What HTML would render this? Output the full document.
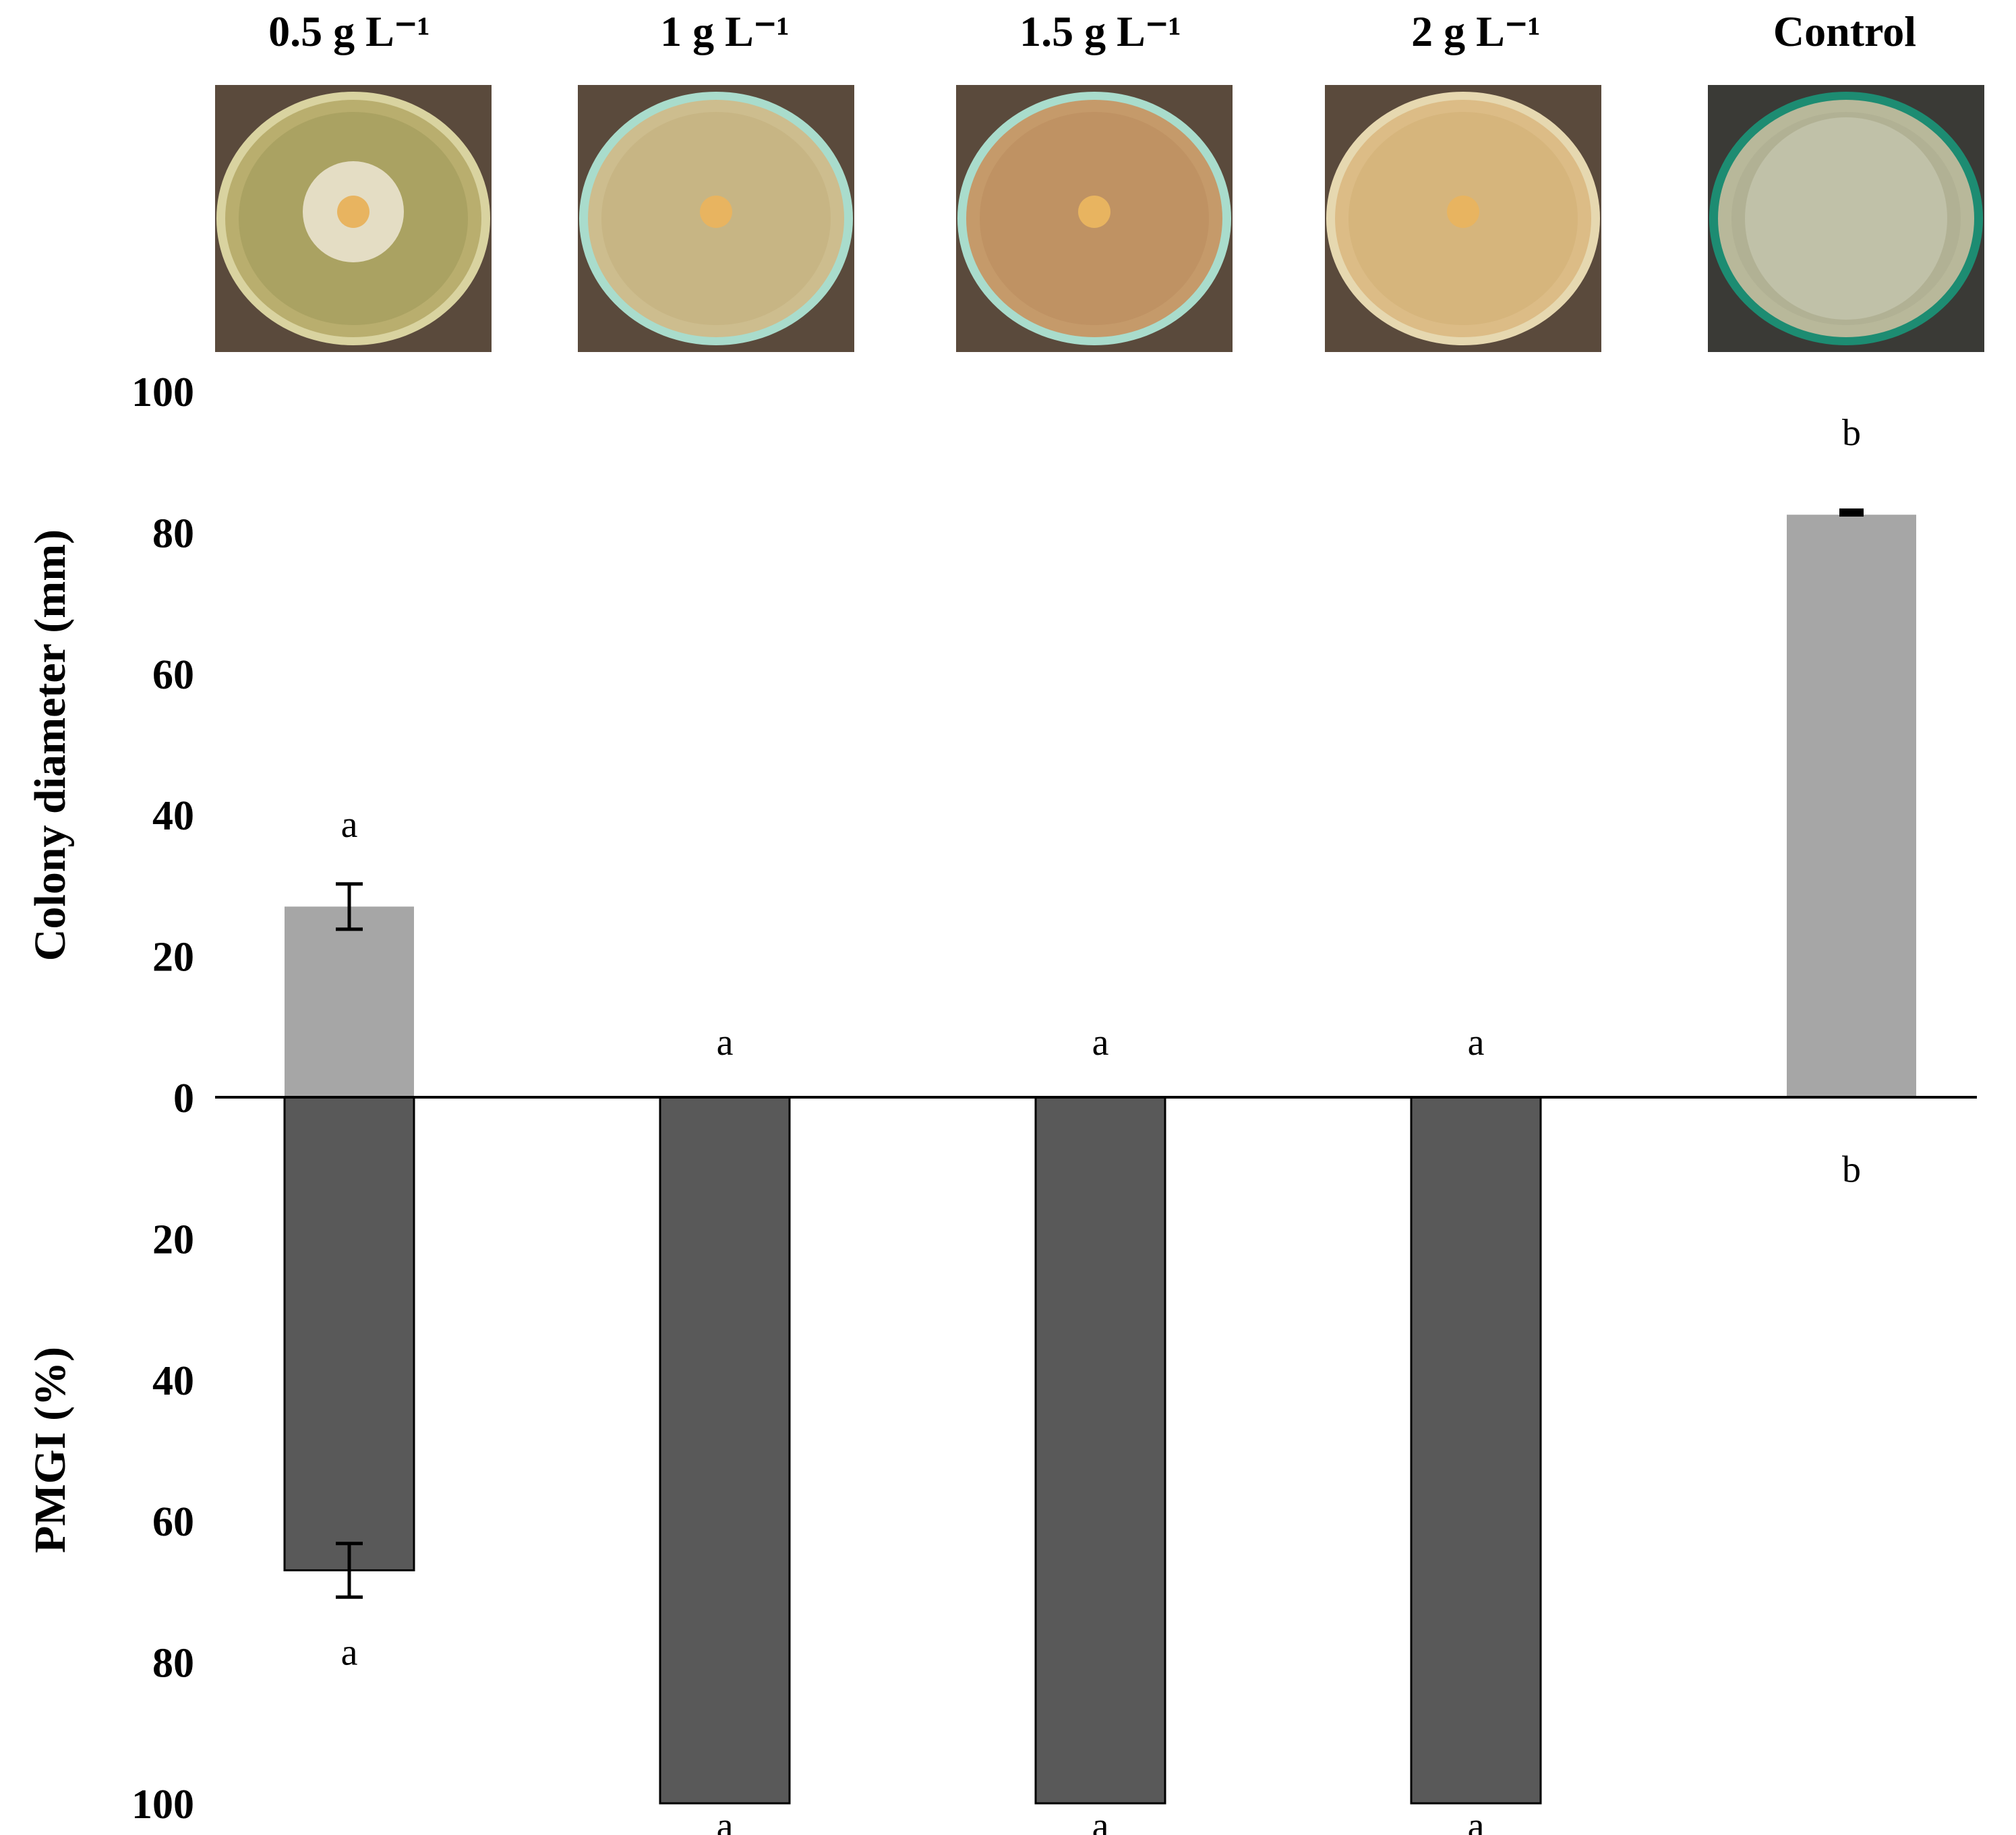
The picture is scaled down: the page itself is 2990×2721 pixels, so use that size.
<!DOCTYPE html>
<html><head><meta charset="utf-8"><style>
html,body{margin:0;padding:0;background:#fff;}
svg{display:block;font-family:"Liberation Serif",serif;}
</style></head><body>
<svg id="chart" width="2990" height="2721" viewBox="0 0 2990 2721" xmlns="http://www.w3.org/2000/svg">
<g id="photos"></g>
<g id="plot"></g>
<text transform="translate(96,1105) rotate(-90)" text-anchor="middle" font-weight="bold" font-size="66">Colony diameter (mm)</text>
<text transform="translate(96,2150) rotate(-90)" text-anchor="middle" font-weight="bold" font-size="66">PMGI (%)</text>
</svg>
<script>
const categories = ["0.5 g L\u207B\u00B9","1 g L\u207B\u00B9","1.5 g L\u207B\u00B9","2 g L\u207B\u00B9","Control"];
const colonyValues = [27, 0, 0, 0, 82.5];
const colonyErrors = [3.2, 0, 0, 0, 0.5];
const colonyLetters = ["a","a","a","a","b"];
const pmgiValues = [67, 100, 100, 100, 0];
const pmgiErrors = [3.8, 0, 0, 0, 0];
const pmgiLetters = ["a","a","a","a","b"];
const tickValues = [100, 80, 60, 40, 20, 0, -20, -40, -60, -80, -100];
const tickLabels = ["100","80","60","40","20","0","20","40","60","80","100"];

const NS = "http://www.w3.org/2000/svg";
const zeroY = 1627, unit = 10.47;
const y = v => zeroY - v * unit;
const xc = i => 518 + i * 557;
const bw = 192;
const plot = document.getElementById('plot');
const photos = document.getElementById('photos');
function mk(tag, attrs, parent){const e=document.createElementNS(NS,tag);for(const k in attrs)e.setAttribute(k,attrs[k]);parent.appendChild(e);return e;}

// photos
const photoX = [319, 857, 1418, 1965, 2533];
const dishColors = [["#b9ae6e","#9c9656"],["#cdbd8e","#c2ad7a"],["#c59a6a","#b98a5c"],["#dcbc86","#d0ad72"],["#b8b89a","#a9aa8e"]];
const rimColors = ["#d9d3a0","#a9dccc","#a9dccc","#e6d8b0","#1d8c72"];
categories.forEach((c,i)=>{
  const t = mk('text',{x:xc(i)+(i==4?-10:0),y:68,'text-anchor':'middle','font-size':64,'font-weight':'bold'},photos);
  t.textContent = c;
  
  
  const px = photoX[i], pw = 410;
  const bg = mk('rect',{x:px,y:126,width:pw,height:396,fill:i==4?'#3a3a36':'#5a4a3c'},photos);
  
  
  const cx = px+pw/2, cy = 324;
  mk('ellipse',{cx:cx,cy:cy,rx:203,ry:188,fill:rimColors[i]},photos);
  mk('ellipse',{cx:cx,cy:cy,rx:190,ry:176,fill:dishColors[i][0]},photos);
  mk('ellipse',{cx:cx,cy:cy,rx:170,ry:158,fill:dishColors[i][1],opacity:0.5},photos);
  if(i==0) mk('circle',{cx:cx,cy:cy-10,r:75,fill:'#e4ddc4'},photos);
  if(i==4) mk('circle',{cx:cx,cy:cy,r:150,fill:'#c9cbb5',opacity:0.6},photos);
  if(i<4) mk('circle',{cx:cx,cy:cy-10,r:24,fill:'#e8b460'},photos);
});

// ticks
tickValues.forEach((v,i)=>{
  const t = mk('text',{x:288,y:y(v)+22,'text-anchor':'end','font-size':62,'font-weight':'bold'},plot);
  t.textContent = tickLabels[i];
  
  
});

function errbar(cx, v, e){
  if(e<=0) return;
  if(e<1){
    mk('rect',{x:cx-18,y:y(v+e)-4,width:36,height:Math.max(12,2*e*unit),fill:'#000'},plot);
    return;
  }
  mk('line',{x1:cx,x2:cx,y1:y(v+e),y2:y(v-e),stroke:'#000','stroke-width':5},plot);
  mk('line',{x1:cx-20,x2:cx+20,y1:y(v+e),y2:y(v+e),stroke:'#000','stroke-width':5},plot);
  mk('line',{x1:cx-20,x2:cx+20,y1:y(v-e),y2:y(v-e),stroke:'#000','stroke-width':5},plot);
}

categories.forEach((c,i)=>{
  const cx = xc(i);
  if(colonyValues[i]>0){
    const r = mk('rect',{x:cx-bw/2,y:y(colonyValues[i]),width:bw,height:colonyValues[i]*unit,fill:'#a6a6a6'},plot);
    
    
    errbar(cx, colonyValues[i], colonyErrors[i]);
  }
  let ly = colonyValues[i]>0 ? y(colonyValues[i]+colonyErrors[i]) - 70 : y(6);
  if(colonyValues[i]>0 && colonyErrors[i]<1) ly -= 28;
  const l = mk('text',{x:cx,y:ly,'text-anchor':'middle','font-size':56},plot);
  l.textContent = colonyLetters[i];
  
  
  if(pmgiValues[i]>0){
    const r = mk('rect',{x:cx-bw/2,y:zeroY,width:bw,height:pmgiValues[i]*unit,fill:'#595959',stroke:'#000','stroke-width':3},plot);
    
    
    errbar(cx, -pmgiValues[i], pmgiErrors[i]);
  }
  const py = pmgiValues[i]>=100 ? y(-pmgiValues[i])+52 : (pmgiValues[i]>0 ? y(-pmgiValues[i]-pmgiErrors[i])+100 : y(-12));
  const pl = mk('text',{x:cx,y:py,'text-anchor':'middle','font-size':56},plot);
  pl.textContent = pmgiLetters[i];
  
  
});

const ax = mk('line',{x1:319,x2:2932,y1:zeroY,y2:zeroY,stroke:'#000','stroke-width':4},plot);


</script>
</body></html>
